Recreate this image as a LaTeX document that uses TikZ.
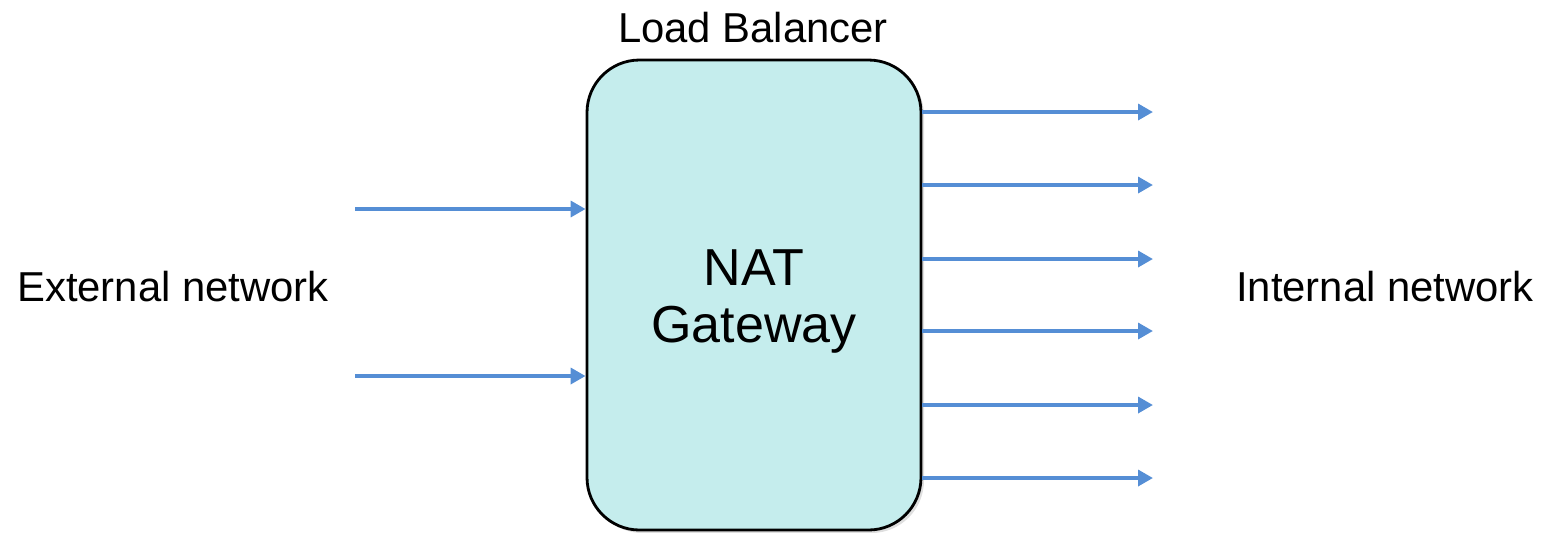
\documentclass[tikz,border=0pt]{standalone}
\usepackage{fontspec}
\setmainfont{Liberation Sans}
\usetikzlibrary{arrows.meta,shadows}

\definecolor{natfill}{HTML}{C5EDED}
\definecolor{linkblue}{HTML}{558ED5}

\tikzset{
  gatebox/.style={draw=black, line width=1.6pt, fill=natfill, rounded corners=1.05cm,
    minimum width=6.68cm, minimum height=9.4cm,
    drop shadow={opacity=0.25, shadow xshift=0.06cm, shadow yshift=-0.06cm}},
  link/.style={linkblue, line width=2.2pt, -{Triangle[length=8.5pt,width=9pt]}},
  label/.style={font=\fontsize{23.8}{28}\selectfont}
}

\begin{document}
\begin{tikzpicture}
                \useasboundingbox (0, 0) rectangle (31.06, -10.64);
                \node [gatebox] (nat) at (15.08, -5.9) {};
                \node [align=center, font=\fontsize{29.6}{32.3}\selectfont] (natlabel) at (15.08, -6.03) {NAT\\Gateway};
                \node [label] (lb) at (15.06, -0.56) {Load Balancer};
                \node [label] (ext) at (3.46, -5.74) {External network};
                \node [label] (int) at (27.7, -5.74) {Internal network};
                \coordinate (in1) at (7.1, -4.18);
                \coordinate (in2) at (7.1, -7.52);
                \draw [link] (in1) -- (in1 -| nat.west);
                \draw [link] (in2) -- (in2 -| nat.west);
                \foreach \y [count=\i] in {2.24, 3.70, 5.18, 6.62, 8.10, 9.56} {
                  \coordinate (out\i) at (23.06, -\y);
                  \draw [link] (out\i -| nat.east) -- (out\i);
                }
            \end{tikzpicture}
\end{document}
